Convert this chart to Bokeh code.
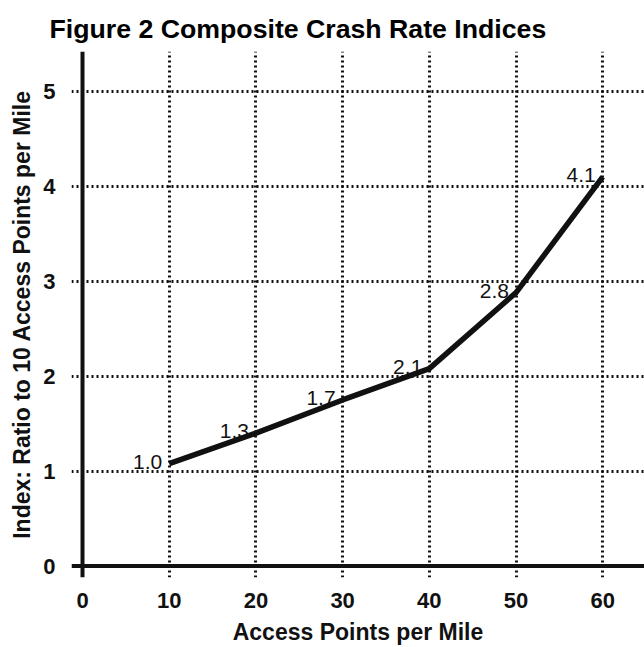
from bokeh.plotting import figure
from bokeh.models import FixedTicker, Span, Range1d
from bokeh.core.properties import value
from bokeh.embed import file_html
from bokeh.resources import INLINE

# ---- data ----
access_points = [10, 20, 30, 40, 50, 60]
crash_index = [1.08, 1.40, 1.75, 2.08, 2.88, 4.10]   # line as drawn
index_labels = ["1.0", "1.3", "1.7", "2.1", "2.8", "4.1"]
x_ticks = [0, 10, 20, 30, 40, 50, 60]
y_ticks = [0, 1, 2, 3, 4, 5]
grid_x = [10, 20, 30, 40, 50, 60]
grid_y = [1, 2, 3, 4, 5]

FONT = "Liberation Sans"
INK = "#111111"

p = figure(width=644, height=647, output_backend="svg", toolbar_location=None,
           x_range=Range1d(-1.27, 64.82), y_range=Range1d(-0.12, 5.42),
           min_border_left=71, min_border_right=0, min_border_top=51,
           min_border_bottom=70,
           title="Figure 2 Composite Crash Rate Indices")
p.outline_line_color = None
p.background_fill_color = "white"
p.border_fill_color = "white"

p.title.text_font = FONT
p.title.text_font_size = "26.7px"
p.title.text_font_style = "bold"
p.title.align = "left"
p.title.offset = -22
p.title.standoff = 15
p.title.text_color = "#000000"

for ax in (p.xaxis[0], p.yaxis[0]):
    ax.axis_line_color = None
    ax.major_tick_line_color = None
    ax.minor_tick_line_color = None
    ax.major_label_text_font = FONT
    ax.major_label_text_font_size = "22px"
    ax.major_label_text_font_style = "bold"
    ax.major_label_text_color = INK
    ax.axis_label_text_font = FONT
    ax.axis_label_text_font_size = "23px"
    ax.axis_label_text_font_style = "bold"
    ax.axis_label_text_color = INK

p.xaxis.ticker = FixedTicker(ticks=x_ticks)
p.yaxis.ticker = FixedTicker(ticks=y_ticks)
p.xaxis.axis_label = "Access Points per Mile"
p.yaxis.axis_label = "Index: Ratio to 10 Access Points per Mile"
p.xaxis.major_label_standoff = 9
p.xaxis.axis_label_standoff = 8
p.yaxis.major_label_standoff = 10
p.yaxis.axis_label_standoff = 5

p.xgrid.ticker = FixedTicker(ticks=grid_x)
p.ygrid.ticker = FixedTicker(ticks=grid_y)
for g in (p.xgrid[0], p.ygrid[0]):
    g.grid_line_color = "#111111"
    g.grid_line_width = 3
    g.grid_line_dash = "2 3"

p.add_layout(Span(location=0, dimension="height", line_color=INK, line_width=4))
p.add_layout(Span(location=0, dimension="width", line_color=INK, line_width=4))

p.line(access_points, crash_index, line_width=5.5, line_color=INK)
p.text(x=access_points, y=crash_index, text=index_labels,
       text_font=value(FONT), text_font_size="21px", text_color=INK,
       text_align="right", text_baseline="alphabetic",
       x_offset=-7, y_offset=-2)

open("out.html", "w").write(file_html(p, INLINE))
